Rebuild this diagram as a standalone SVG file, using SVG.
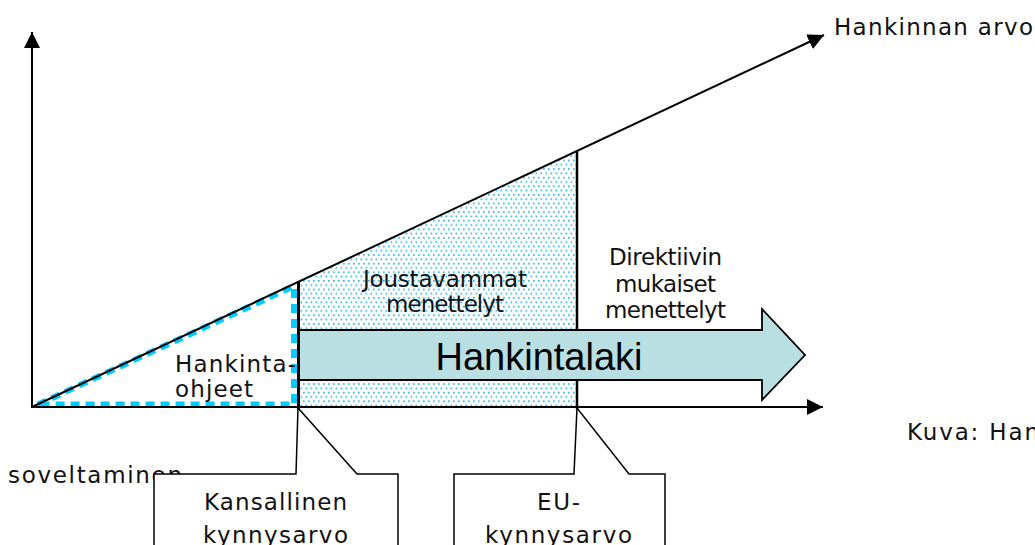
<svg xmlns="http://www.w3.org/2000/svg" width="1035" height="545" viewBox="0 0 1035 545">
<style>
.lbl{font-family:"DejaVu Sans","Verdana",sans-serif;font-size:23px;fill:#111}
.big{font-family:"Liberation Sans",Arial,sans-serif;font-size:38px;fill:#000}
.ax{stroke:#000;stroke-width:2;fill:none}
.call{fill:#fff;stroke:#000;stroke-width:1.5}
</style>
<defs>
<pattern id="dots" width="5" height="8.6" patternUnits="userSpaceOnUse">
<rect x="0.5" y="0.5" width="1.7" height="1.7" fill="#2DB9EC"/>
<rect x="3" y="4.8" width="1.7" height="1.7" fill="#2DB9EC"/>
</pattern>
<marker id="ah2" viewBox="0 0 16 16" refX="16" refY="8" markerWidth="16" markerHeight="16" markerUnits="userSpaceOnUse" orient="auto">
<path d="M0,0 L16,8 L0,16 Z" fill="#000"/>
</marker>
</defs>
<rect width="1035" height="545" fill="#fff"/>

<g id="joustavammat-region">
<polygon points="298,282 577,151 577,407 298,407" fill="url(#dots)"/>
</g>

<g id="hankintaohjeet-region">
<polygon points="38,404.5 294,286 294,404.5" fill="none" stroke="#00CCFF" stroke-width="6" stroke-dasharray="9,6"/>
</g>

<g id="hankintalaki">
<polygon points="298,330 762,330 762,309 805,355 762,400 762,380 298,380" fill="#B9DFE3" stroke="#000" stroke-width="1.8"/>
<text class="big" x="539" y="370" text-anchor="middle">Hankintalaki</text>
</g>

<g id="connectors">
<line class="ax" x1="32" y1="408" x2="32" y2="32" marker-end="url(#ah2)"/>
<line class="ax" x1="32" y1="407" x2="823" y2="407" marker-end="url(#ah2)"/>
<line class="ax" x1="32" y1="407" x2="824" y2="35" marker-end="url(#ah2)"/>
<line x1="298.5" y1="281" x2="298.5" y2="409" stroke="#000" stroke-width="3"/>
<line x1="577" y1="150" x2="577" y2="329" stroke="#000" stroke-width="2.5"/>
<line x1="577" y1="381" x2="577" y2="409" stroke="#000" stroke-width="2.5"/>
</g>

<g id="label-hankinnan-arvo">
<text class="lbl" x="834" y="35" textLength="199" lengthAdjust="spacing">Hankinnan arvo</text>
</g>
<g id="label-hankintaohjeet">
<text class="lbl" x="175" y="372" textLength="121" lengthAdjust="spacing">Hankinta-</text>
<text class="lbl" x="175" y="397" textLength="78" lengthAdjust="spacing">ohjeet</text>
</g>
<g id="label-joustavammat">
<text class="lbl" x="363" y="287" textLength="164" lengthAdjust="spacing">Joustavammat</text>
<text class="lbl" x="386" y="312" textLength="118" lengthAdjust="spacing">menettelyt</text>
</g>
<g id="label-direktiivin">
<text class="lbl" x="609" y="265" textLength="113" lengthAdjust="spacing">Direktiivin</text>
<text class="lbl" x="615" y="292" textLength="101" lengthAdjust="spacing">mukaiset</text>
<text class="lbl" x="605" y="318" textLength="121" lengthAdjust="spacing">menettelyt</text>
</g>
<g id="label-soveltaminen">
<text class="lbl" x="8" y="483" textLength="174" lengthAdjust="spacing">soveltaminen</text>
</g>
<g id="label-kuva">
<text class="lbl" x="907" y="440" textLength="132" lengthAdjust="spacing">Kuva: Han</text>
</g>

<g id="callout-kansallinen">
<path class="call" d="M154,548 V474 H296 L298,408 L357,474 H398 V548"/>
<text class="lbl" x="204" y="510" textLength="143" lengthAdjust="spacing">Kansallinen</text>
<text class="lbl" x="203" y="543" textLength="145" lengthAdjust="spacing">kynnysarvo</text>
</g>
<g id="callout-eu">
<path class="call" d="M454,548 V474 H574 L577,408 L629,474 H665 V548"/>
<text class="lbl" x="537" y="510" textLength="43" lengthAdjust="spacing">EU-</text>
<text class="lbl" x="485" y="543" textLength="147" lengthAdjust="spacing">kynnysarvo</text>
</g>
</svg>
